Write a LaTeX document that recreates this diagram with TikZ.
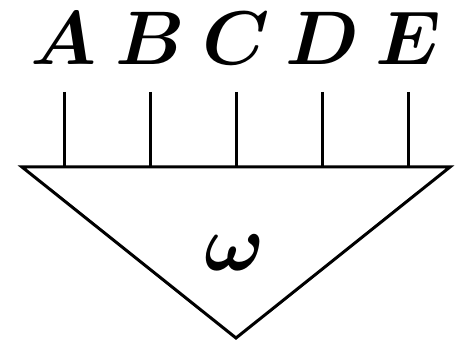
\documentclass[tikz,border=0pt]{standalone}
\usepackage{amsmath}
\usepackage{bm}
\tikzset{
  edge/.style={line width=3pt, line join=miter},
  letternode/.style={anchor=base, inner sep=0pt, scale=7.6},
  omeganode/.style={anchor=base, inner sep=0pt, scale=8}
}
\begin{document}
\begin{tikzpicture}[x=1pt, y=-1pt]
\useasboundingbox (0,0) rectangle (461,347);
% triangle
\coordinate (left)  at (22,167);
\coordinate (right) at (450,167);
\coordinate (tip)   at (236,338);
\draw[edge] (left) -- (right) -- (tip) -- cycle;
\node (omega) [omeganode] at (235,271) {$\bm{\omega}$};
% legs with their letters
\foreach \name [count=\i from 0] in {A,B,C,D,E} {
  \node (\name) [letternode] at (64+86*\i,65) {$\bm{\name}$};
  \coordinate (\name top)  at (64+86*\i,92);
  \coordinate (\name foot) at (64+86*\i,167);
  \draw[edge] (\name top) -- (\name foot);
}
\end{tikzpicture}
\end{document}
